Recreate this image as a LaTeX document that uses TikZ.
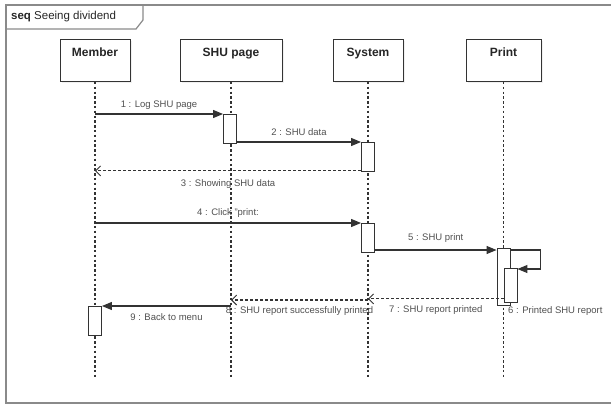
\documentclass[tikz,border=0pt]{standalone}
\usepackage{fontspec}
\setmainfont{Liberation Sans}
\usetikzlibrary{arrows.meta,positioning,calc,shadows}

\definecolor{ink}{HTML}{333333}
\definecolor{frameclr}{HTML}{8A8A8A}
\definecolor{lblclr}{HTML}{505050}

\begin{document}
\begin{tikzpicture}[x=1pt,y=-1pt,
  headbox/.style={draw=ink, fill=white, line width=0.9pt, minimum height=42pt,
    inner sep=0pt, anchor=north,
    drop shadow={opacity=0.12, shadow xshift=2pt, shadow yshift=-2pt}},
  headtext/.style={font=\fontsize{12}{14}\selectfont\bfseries, text=black!85, inner sep=0pt},
  actbox/.style={draw=ink, fill=white, line width=0.9pt, minimum width=13pt,
    inner sep=0pt, anchor=north},
  lifeline/.style={draw=ink, line width=1.3pt, dash pattern=on 2.4pt off 2.4pt},
  callmsg/.style={draw=ink, line width=1.1pt, -{Triangle[length=10pt,width=8pt]}},
  retmsg/.style={draw=ink, line width=1.1pt, dash pattern=on 3pt off 2pt,
    -{Straight Barb[length=5pt,width=10pt,line width=0.9pt]}},
  msglbl/.style={font=\fontsize{9.5}{11}\selectfont, text=lblclr, inner sep=0pt,
    text height=7pt, text depth=2pt},
]
\useasboundingbox (0,0) rectangle (611,405);

% frame and its title tab
\draw[frameclr, line width=1.2pt] (613,5) -- (6,5) -- (6,403) -- (613,403);
\draw[frameclr, line width=1.2pt] (6,29) -- (136,29) -- (143,20) -- (143,5);
\node[anchor=west, inner sep=0pt, font=\fontsize{11.5}{13}\selectfont, text=black!85]
  (title) at (11,17) {\textbf{seq} Seeing dividend};

% lifeline heads
\node[headbox, minimum width=70pt]  (member) at (95,39)    {};
\node[headbox, minimum width=102pt] (shu)    at (231,39)   {};
\node[headbox, minimum width=70pt]  (sys)    at (368,39)   {};
\node[headbox, minimum width=75pt]  (prt)    at (503.5,39) {};
\node[headtext, below=9pt of member.north] (memberT) {Member};
\node[headtext, below=9pt of shu.north]    (shuT)    {SHU page};
\node[headtext, below=9pt of sys.north]    (sysT)    {System};
\node[headtext, below=9pt of prt.north]    (prtT)    {Print};

% lifeline ends
\coordinate (memberE) at (95,379);
\coordinate (shuE)    at (231,379);
\coordinate (sysE)    at (368,379);
\coordinate (prtE)    at (503.5,379);

\draw[lifeline] (member.south) -- (memberE);
\draw[lifeline] (shu.south) -- (shuE);
\draw[lifeline] (sys.south) -- (sysE);
\draw[lifeline] (prt.south) -- (prtE);

% activation bars
\node[actbox, minimum height=29pt] (aShu)  at (230,114)   {};
\node[actbox, minimum height=29pt] (aSys1) at (368,142)   {};
\node[actbox, minimum height=29pt] (aSys2) at (368,223)   {};
\node[actbox, minimum height=57pt] (aPr)   at (503.5,248) {};
\node[actbox, minimum height=34pt] (aPrN)  at (510.5,268) {};
\node[actbox, minimum height=29pt] (aMem)  at (95,306)    {};

% message end points
\coordinate (m3s) at ([yshift=1pt]aSys1.south west);
\coordinate (m5e) at ([yshift=-2pt]aPr.north west);
\coordinate (m6s) at ([yshift=-2pt]aPr.north east);
\coordinate (m6e) at ([yshift=-1pt]aPrN.north east);
\coordinate (m7s) at ([yshift=4pt]aPrN.south west);
\coordinate (m8s) at (368,300);

% messages
\draw[callmsg] (member |- aShu.north) -- (aShu.north west)
  node[msglbl, midway, above=4pt] (l1) {1 : Log SHU page};
\draw[callmsg] (aShu.east |- aSys1.north) -- (aSys1.north west)
  node[msglbl, midway, above=4pt] (l2) {2 : SHU data};
\draw[retmsg] (m3s) -- (member |- m3s)
  node[msglbl, midway, below=8pt] (l3) {3 : Showing SHU data};
\draw[callmsg] (member |- aSys2.north) -- (aSys2.north west)
  node[msglbl, midway, above=5pt] (l4) {4 : Click "print:};
\draw[callmsg] (aSys2.east |- m5e) -- (m5e)
  node[msglbl, midway, above=7pt] (l5) {5 : SHU print};
\draw[callmsg] (m6s) -- ++(30,0) |- (m6e);
\node[msglbl, anchor=west] (l6) at (508,311) {6 : Printed SHU report};
\draw[retmsg] (m7s) -- (sys |- m7s)
  node[msglbl, midway, below=6pt] (l7) {7 : SHU report printed};
\draw[retmsg] (m8s) -- (shu |- m8s)
  node[msglbl, midway, below=6pt] (l8) {8 : SHU report successfully printed};
\draw[callmsg] (shu |- aMem.north) -- (aMem.north east)
  node[msglbl, midway, below=7pt] (l9) {9 : Back to menu};
\end{tikzpicture}
\end{document}
